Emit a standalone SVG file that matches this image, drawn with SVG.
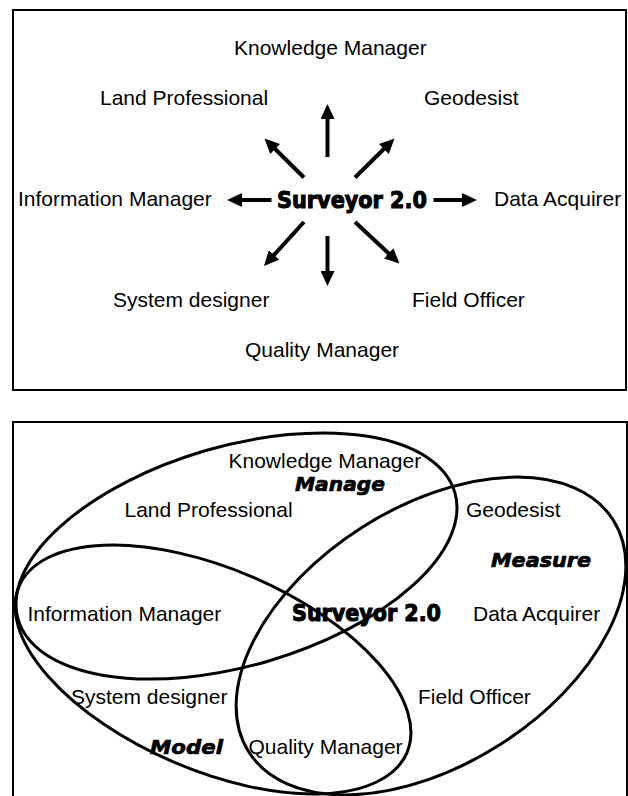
<svg xmlns="http://www.w3.org/2000/svg" width="628" height="796" viewBox="0 0 628 796">
<style>
.lbl{font-family:"Liberation Sans",Arial,sans-serif;font-size:21px;fill:#000}
.core{font-family:"DejaVu Sans","Liberation Sans",sans-serif;font-weight:bold;font-size:22.5px;fill:#000;stroke:#000;stroke-width:1.1}
.set{font-family:"DejaVu Sans","Liberation Sans",sans-serif;font-weight:bold;font-style:italic;font-size:20px;fill:#000;stroke:#000;stroke-width:0.7}
.frame{fill:none;stroke:#000;stroke-width:2}
.arr{stroke:#000;stroke-width:4;fill:none;marker-end:url(#head)}
.ell{fill:none;stroke:#000;stroke-width:3}
</style>
<defs>
<marker id="head" viewBox="0 0 15 14" refX="5" refY="7" markerWidth="15" markerHeight="14" markerUnits="userSpaceOnUse" orient="auto">
<path d="M0,0 L15,7 L0,14 z" fill="#000"/>
</marker>
</defs>
<rect width="628" height="796" fill="#fff"/>

<!-- Top diagram -->
<g id="top-diagram">
<rect class="frame" x="13" y="10" width="613" height="380"/>
<g id="connectors">
<line class="arr" x1="327.5" y1="157" x2="327.5" y2="114"/>
<line class="arr" x1="304" y1="177.5" x2="271.6" y2="145.5"/>
<line class="arr" x1="355" y1="177.5" x2="387.4" y2="145.5"/>
<line class="arr" x1="271.5" y1="200" x2="237" y2="200"/>
<line class="arr" x1="433.5" y1="200" x2="467" y2="200"/>
<line class="arr" x1="304" y1="222" x2="270.7" y2="258.6"/>
<line class="arr" x1="327.5" y1="236" x2="327.5" y2="276"/>
<line class="arr" x1="355" y1="222" x2="392.2" y2="256.7"/>
</g>
<g id="t-surveyor"><text class="core" x="277" y="208" textLength="150" lengthAdjust="spacingAndGlyphs">Surveyor 2.0</text></g>
<g id="t-knowledge"><text class="lbl" x="234" y="55">Knowledge Manager</text></g>
<g id="t-land"><text class="lbl" x="100" y="105">Land Professional</text></g>
<g id="t-geodesist"><text class="lbl" x="424" y="104.5">Geodesist</text></g>
<g id="t-information"><text class="lbl" x="18" y="206">Information Manager</text></g>
<g id="t-data"><text class="lbl" x="494" y="206">Data Acquirer</text></g>
<g id="t-system"><text class="lbl" x="113" y="307">System designer</text></g>
<g id="t-field"><text class="lbl" x="412" y="307">Field Officer</text></g>
<g id="t-quality"><text class="lbl" x="245" y="356.5">Quality Manager</text></g>
</g>

<!-- Bottom diagram -->
<g id="bottom-diagram">
<rect class="frame" x="13" y="422" width="614" height="380"/>
<g id="sets">
<ellipse id="set-manage" class="ell" cx="0" cy="0" rx="227.4" ry="109.8" transform="translate(236.5,556) rotate(-16.2)"/>
<ellipse id="set-measure" class="ell" cx="0" cy="0" rx="216" ry="128.7" transform="translate(431,636) rotate(-32.5)"/>
<ellipse id="set-model" class="ell" cx="0" cy="0" rx="211" ry="100.6" transform="translate(213,669.5) rotate(23.25)"/>
</g>
<g id="b-knowledge"><text class="lbl" x="228.5" y="468">Knowledge Manager</text></g>
<g id="b-manage"><text class="set" x="295" y="491" textLength="90" lengthAdjust="spacingAndGlyphs">Manage</text></g>
<g id="b-land"><text class="lbl" x="124.5" y="516.7">Land Professional</text></g>
<g id="b-geodesist"><text class="lbl" x="466" y="516.7">Geodesist</text></g>
<g id="b-measure"><text class="set" x="491" y="566.7" textLength="100" lengthAdjust="spacingAndGlyphs">Measure</text></g>
<g id="b-information"><text class="lbl" x="27.5" y="621">Information Manager</text></g>
<g id="b-surveyor"><text class="core" x="292" y="621" textLength="149" lengthAdjust="spacingAndGlyphs">Surveyor 2.0</text></g>
<g id="b-data"><text class="lbl" x="473" y="621">Data Acquirer</text></g>
<g id="b-system"><text class="lbl" x="71" y="704">System designer</text></g>
<g id="b-field"><text class="lbl" x="418" y="704">Field Officer</text></g>
<g id="b-model"><text class="set" x="150" y="754" textLength="73" lengthAdjust="spacingAndGlyphs">Model</text></g>
<g id="b-quality"><text class="lbl" x="248.5" y="754">Quality Manager</text></g>
</g>
</svg>
